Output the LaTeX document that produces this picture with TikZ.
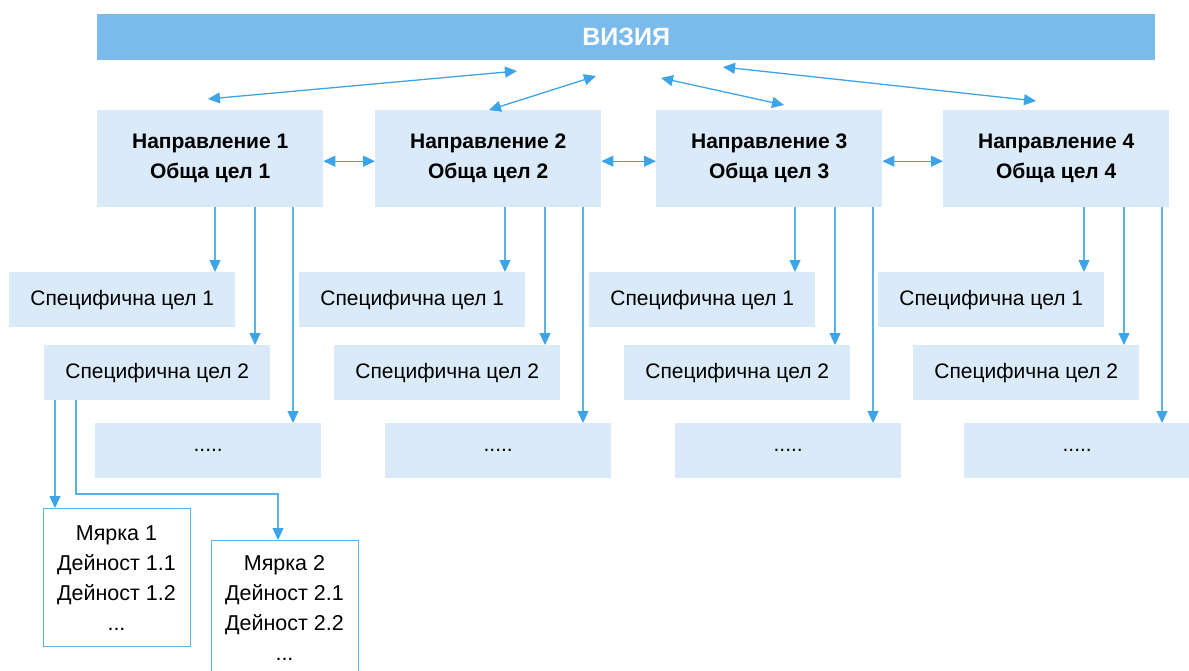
\documentclass[tikz,border=0pt]{standalone}
\usepackage{fontspec}
\setmainfont{Liberation Sans}
\usetikzlibrary{arrows.meta}
\definecolor{barc}{HTML}{7ABBEB}
\definecolor{lboxc}{HTML}{DAEAF8}
\definecolor{arrc}{HTML}{3DA4E8}
\definecolor{linec}{HTML}{5AB2EA}
\begin{document}
\begin{tikzpicture}[x=1pt,y=-1pt,
  dirbox/.style={fill=lboxc, draw=none, inner sep=0pt, anchor=north west,
    minimum width=226pt, minimum height=97pt, align=center,
    font=\fontsize{21}{30}\selectfont\bfseries},
  subbox/.style={fill=lboxc, draw=none, inner sep=0pt, anchor=north west,
    minimum width=226pt, minimum height=55pt,
    font=\fontsize{21}{24}\selectfont},
  mbox/.style={fill=white, draw=linec, line width=1.3pt, inner sep=0pt, anchor=north west,
    minimum width=147pt},
  mtext/.style={align=center, inner sep=0pt, font=\fontsize{21.5}{30}\selectfont},
  ar/.style={draw=linec, line width=1.3pt, -{Triangle[length=12pt,width=11pt,fill=arrc,color=arrc]}},
  dar/.style={draw=arrc, line width=1.3pt, {Triangle[length=12pt,width=11pt]}-{Triangle[length=12pt,width=11pt]}}
]
\useasboundingbox (0,0) rectangle (1189,670);
\clip (0,0) rectangle (1189,670);

% vision bar
\node[fill=barc, inner sep=0pt, anchor=north west, minimum width=1058pt, minimum height=46pt,
  text=white, font=\fontsize{25}{28}\selectfont\bfseries] (vis) at (97,14) {ВИЗИЯ};

% direction boxes
\node[dirbox] (d1) at (97,110) {Направление 1\\Обща цел 1};
\node[dirbox] (d2) at (375,110) {Направление 2\\Обща цел 2};
\node[dirbox] (d3) at (656,110) {Направление 3\\Обща цел 3};
\node[dirbox] (d4) at (943,110) {Направление 4\\Обща цел 4};

% horizontal double arrows
\draw[dar] ([yshift=-2.5pt]d1.east) -- ([yshift=-2.5pt]d2.west);
\draw[dar] ([yshift=-2.5pt]d2.east) -- ([yshift=-2.5pt]d3.west);
\draw[dar] ([yshift=-2.5pt]d3.east) -- ([yshift=-2.5pt]d4.west);

% vision arrows
\coordinate (va1) at (208,99);  \coordinate (vb1) at (517,71);
\coordinate (va2) at (489,110); \coordinate (vb2) at (596,76);
\coordinate (va3) at (661,78);  \coordinate (vb3) at (784,105);
\coordinate (va4) at (723,67);  \coordinate (vb4) at (1036,101);
\draw[dar] (va1) -- (vb1);
\draw[dar] (va2) -- (vb2);
\draw[dar] (va3) -- (vb3);
\draw[dar] (va4) -- (vb4);

% specific goal boxes
\foreach \i/\L in {1/9, 2/299, 3/589, 4/878} {
  \node[subbox] (s1\i) at (\L,272) {Специфична цел 1};
  \node[subbox] (s2\i) at (\L+35,345) {Специфична цел 2};
  \node[subbox] (s3\i) at (\L+86,423) {.....};
  \coordinate (ca\i) at (\L+206,0);
  \coordinate (cb\i) at (\L+246,0);
  \coordinate (cc\i) at (\L+284,0);
  \draw[ar] (ca\i |- d\i.south) -- (ca\i |- s1\i.north);
  \draw[ar] (cb\i |- d\i.south) -- (cb\i |- s2\i.north);
  \draw[ar] (cc\i |- d\i.south) -- (cc\i |- s3\i.north);
}

% measure boxes
\node[mbox, minimum height=138pt] (m1) at (43,508) {};
\node[mbox, minimum height=145pt] (m2) at (211,540) {};
\node[mtext] (t1) at (116.5,578) {Мярка 1\\Дейност 1.1\\Дейност 1.2\\...};
\node[mtext, anchor=north] (t2) at (284.5,555) {Мярка 2\\Дейност 2.1\\Дейност 2.2\\...};

\coordinate (ma) at (55,0);
\coordinate (mb) at (76,0);
\coordinate (mc) at (278,494);
\draw[ar] (ma |- s21.south) -- (ma |- m1.north);
\draw[ar] (mb |- s21.south) |- (mc) -- (mc |- m2.north);
\end{tikzpicture}
\end{document}
